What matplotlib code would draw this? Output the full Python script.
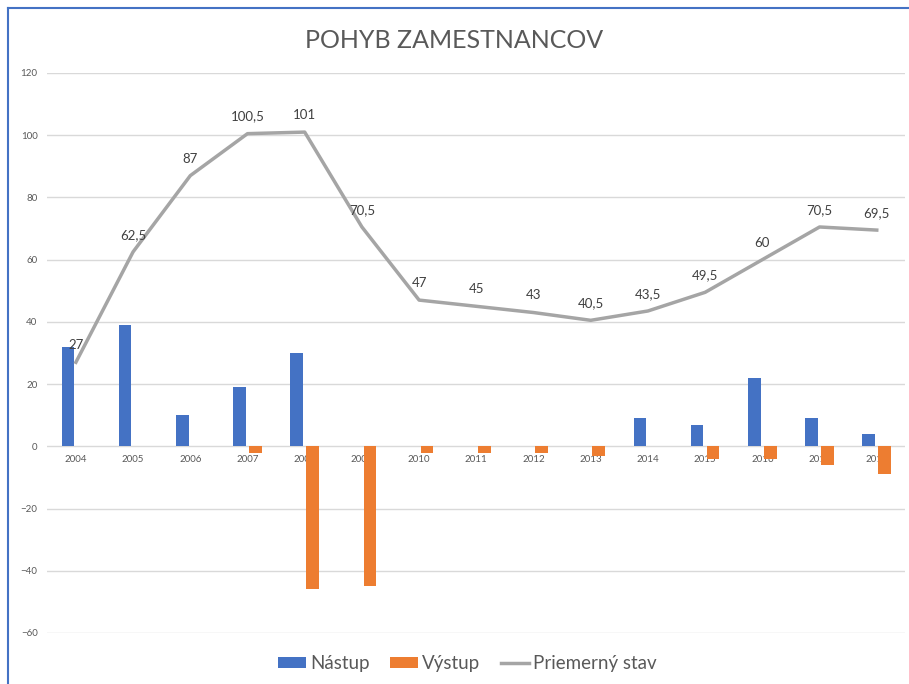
import matplotlib.pyplot as plt
from matplotlib.lines import Line2D
import numpy as np

# data
roky = ['2004', '2005', '2006', '2007', '2008', '2009', '2010', '2011',
        '2012', '2013', '2014', '2015', '2016', '2017', '2018']
nastup = [32, 39, 10, 19, 30, 0, 0, 0, 0, 0, 9, 7, 22, 9, 4]
vystup = [0, 0, 0, -2, -46, -45, -2, -2, -2, -3, 0, -4, -4, -6, -9]
stav = [27, 62.5, 87, 100.5, 101, 70.5, 47, 45, 43, 40.5, 43.5, 49.5, 60, 70.5, 69.5]

plt.rcParams['font.family'] = ['Lato', 'DejaVu Sans']

fig = plt.figure(figsize=(9.09, 6.84), dpi=100)
ax = fig.add_axes([0.052, 0.0746, 0.944, 0.8187])

x = np.arange(len(roky))
w = 0.22
b1 = ax.bar(x - 0.14, nastup, w, color='#4472c4', label='Nástup', zorder=2)
b2 = ax.bar(x + 0.14, vystup, w, color='#ed7d31', label='Výstup', zorder=2)
l1, = ax.plot(x, stav, color='#a5a5a5', lw=2.5, label='Priemerný stav', zorder=3)

for xi, v in zip(x, stav):
    txt = ('%g' % v).replace('.', ',')
    ax.annotate(txt, (xi, v), xytext=(0, 8), textcoords='offset points',
                ha='center', va='bottom', fontsize=9.5, color='#404040', zorder=4)

ax.set_xlim(-0.5, len(roky) - 0.5)
ax.set_ylim(-60, 120)
ax.set_yticks(range(-60, 121, 20))
ax.set_xticks(x)
ax.set_xticklabels(roky)
ax.grid(axis='y', color='#d9d9d9', lw=1, zorder=0)
ax.spines['bottom'].set_position(('data', 0))
for s in ax.spines.values():
    s.set_visible(False)
ax.tick_params(axis='both', length=0, labelsize=7, labelcolor='#595959')
ax.tick_params(axis='x', pad=6)
ax.tick_params(axis='y', pad=7)

fig.suptitle('POHYB ZAMESTNANCOV', y=0.957, fontsize=18, color='#595959')

fig.legend([b1, b2, l1], ['Nástup', 'Výstup', 'Priemerný stav'],
           loc='center', bbox_to_anchor=(0.514, 0.03), ncol=3, frameon=False,
           fontsize=13.5, labelcolor='#595959', handlelength=1.5,
           handleheight=0.55, columnspacing=1.1, handletextpad=0.2)

# blue border of the chart frame
fig.add_artist(Line2D([8/909, 8/909], [0, 1 - 8/684], color='#4472c4', lw=1.5))
fig.add_artist(Line2D([8/909, 1], [1 - 8/684, 1 - 8/684], color='#4472c4', lw=1.5))

plt.savefig('out.png', dpi=100)
plt.close()
